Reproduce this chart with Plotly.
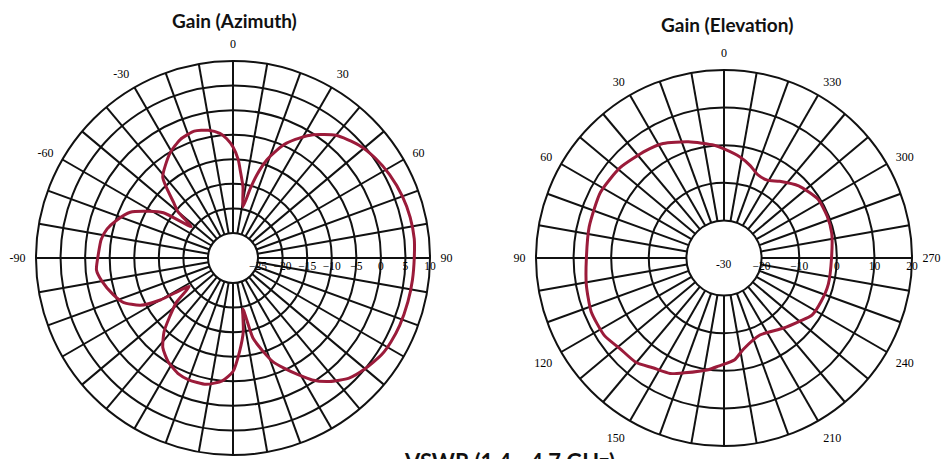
import plotly.graph_objects as go

# ---------------- Data ----------------
# Azimuth pattern: angle (deg, clockwise from top) and gain (dB)
az_theta = [-180, -175, -168, -160, -155, -148, -142, -137, -133, -128, -123, -120,
            -117, -112, -107, -100, -95, -88, -82, -77, -72, -66, -61, -57, -53,
            -50, -47, -41, -31, -24, -17, -11, -6, -3, 0, 3, 5, 8, 11, 14, 16, 19,
            22, 25, 29, 33, 40, 48, 55, 62, 70, 77, 84, 90, 97, 104, 112, 118, 123,
            130, 136, 142, 147, 151, 155, 159, 162, 166, 169, 172, 176, 180]
az_gain = [-7.0, -5.0, -3.8, -3.7, -4.0, -5.2, -6.9, -9.5, -12.4, -15.5, -19.5, -13.0,
           -8.9, -6.0, -4.6, -3.0, -2.2, -2.7, -3.0, -3.8, -5.2, -7.2, -10.5, -13.2, -19.5,
           -15.5, -13.6, -8.3, -5.2, -3.7, -3.1, -3.6, -4.6, -5.8, -7.5, -10.0, -12.5, -15.5,
           -19.5, -15.5, -12.5, -9.0, -6.5, -4.3, -2.2, -0.2, 2.5, 4.3, 5.3, 6.0, 6.6, 6.9,
           7.0, 6.8, 6.7, 6.6, 6.5, 6.3, 6.0, 5.0, 3.9, 1.8, -0.5, -3.0, -5.3, -7.5, -10.0,
           -13.3, -19.5, -15.0, -11.0, -7.0]

# Elevation pattern: angle (deg, counter-clockwise from top) and gain (dB)
el_theta = [0, 5, 17, 28, 36, 49, 62, 77, 90, 101, 112, 123, 131, 140, 147, 155, 161,
            172, 177, 186, 192, 205, 220, 230, 237, 246, 256, 270, 283, 292, 302, 314,
            324, 331, 338, 344, 351, 360]
el_gain = [-1.0, 0.1, 2.3, 4.5, 5.3, 6.6, 7.2, 6.8, 6.6, 7.3, 8.1, 7.9, 6.7, 6.3, 4.8,
           3.9, 2.3, 0.0, -1.2, -2.8, -5.2, -7.4, -5.6, -3.8, -2.1, -1.7, -1.4, -1.4,
           -0.6, -0.4, -0.5, -2.4, -4.8, -6.3, -6.1, -4.5, -2.8, -1.0]

grid_angles = list(range(0, 360, 10))
az_label_angles = [0, 30, 60, 90, 270, 300, 330]
az_labels = ["0", "30", "60", "90", "-90", "-60", "-30"]
el_label_angles = list(range(0, 360, 30))
el_labels = [str(a) for a in el_label_angles]

az_radial_ticks = [-25, -20, -15, -10, -5, 0, 5, 10]
el_radial_ticks = [-20, -10, 0, 10, 20]

titles = ["Gain (Azimuth)", "Gain (Elevation)"]
bottom_text = "VSWR (1.4 - 4.7 GHz)"

# ---------------- Figure ----------------
W, H = 952, 459
RED = "#9b1b3a"
GRID = "#111111"
SERIF = "Liberation Serif, Times New Roman, serif"
SANS = "Lato, Open Sans, sans-serif"


def tick_text(labels_at, labels):
    m = dict(zip(labels_at, labels))
    return [m.get(a, "") for a in grid_angles]


fig = go.Figure()
fig.add_trace(go.Scatterpolar(r=az_gain, theta=az_theta, mode="lines",
                              line=dict(color=RED, width=3, shape="spline", smoothing=0.6),
                              subplot="polar", showlegend=False))
fig.add_trace(go.Scatterpolar(r=el_gain, theta=el_theta, mode="lines",
                              line=dict(color=RED, width=3, shape="spline", smoothing=0.6),
                              subplot="polar2", showlegend=False))


def px_dom(cx, cy, rad):
    return dict(x=[(cx - rad) / W, (cx + rad) / W],
                y=[(H - (cy + rad)) / H, (H - (cy - rad)) / H])


common_ang = dict(tickmode="array", tickvals=grid_angles, showgrid=True,
                  gridcolor=GRID, gridwidth=1.8, showline=True, linecolor=GRID,
                  linewidth=2, ticks="outside", ticklen=7,
                  tickcolor="rgba(0,0,0,0)", tickfont=dict(family=SERIF, size=12, color="#000"),
                  rotation=90)

common_rad = dict(tickmode="array", angle=0, showline=False, showgrid=True,
                  gridcolor=GRID, gridwidth=1.8, ticks="",
                  tickfont=dict(family=SERIF, size=11.5, color="#000"))

fig.update_layout(
    width=W, height=H,
    margin=dict(l=0, r=0, t=0, b=0),
    paper_bgcolor="white",
    polar=dict(
        domain=px_dom(233, 258, 197),
        bgcolor="white",
        hole=25 / 197,
        angularaxis=dict(common_ang, direction="clockwise",
                         ticktext=tick_text(az_label_angles, az_labels)),
        radialaxis=dict(common_rad, range=[-25, 10], tickvals=az_radial_ticks),
    ),
    polar2=dict(
        domain=px_dom(724, 258, 188),
        bgcolor="white",
        hole=0.2,
        angularaxis=dict(common_ang, direction="counterclockwise",
                         ticktext=tick_text(el_label_angles, el_labels)),
        radialaxis=dict(common_rad, range=[-20, 20], tickvals=el_radial_ticks),
    ),
)

fig.add_annotation(text=titles[0], x=234 / W, y=1 - 20 / H, xref="paper", yref="paper",
                   xanchor="center", yanchor="middle", showarrow=False,
                   font=dict(family=SANS, size=19, color="#111", weight="bold"))
fig.add_annotation(text=titles[1], x=727 / W, y=1 - 25 / H, xref="paper", yref="paper",
                   xanchor="center", yanchor="middle", showarrow=False,
                   font=dict(family=SANS, size=19, color="#111", weight="bold"))
fig.add_annotation(text="-30", x=724 / W, y=1 - 264 / H, xref="paper", yref="paper",
                   xanchor="center", yanchor="middle", showarrow=False,
                   font=dict(family=SERIF, size=11.5, color="#000"))
fig.add_annotation(text=bottom_text, x=509 / W, y=1 - 446 / H, xref="paper", yref="paper",
                   xanchor="center", yanchor="top", showarrow=False,
                   font=dict(family=SANS, size=22, color="#111", weight="bold"))

fig.write_html("out.html", config={"displayModeBar": False},
               post_script="document.body.style.margin='0';")
